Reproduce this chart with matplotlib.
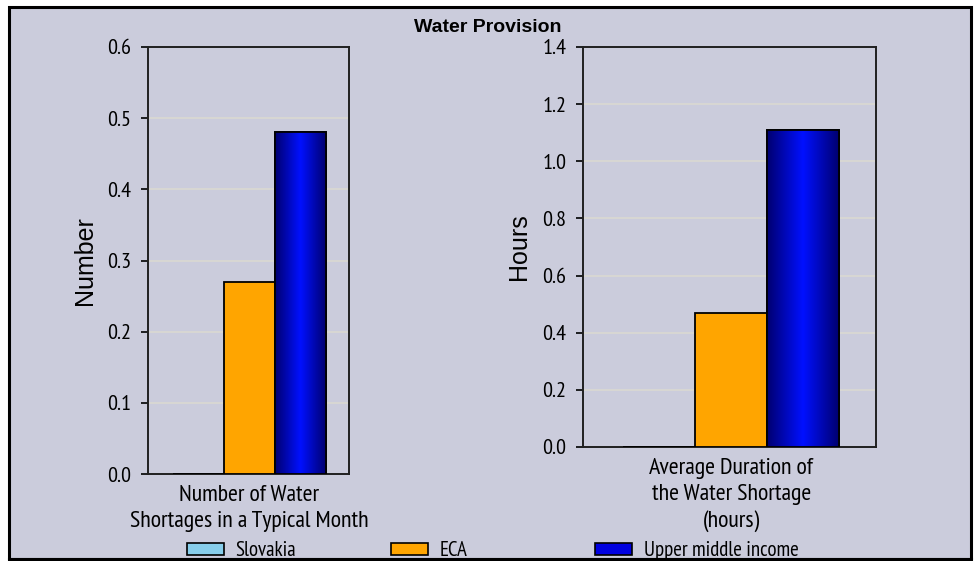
import matplotlib
matplotlib.use("Agg")
import matplotlib.pyplot as plt
import numpy as np
from matplotlib.patches import Rectangle, Patch

series = ["Slovakia", "ECA", "Upper middle income"]
colors = ["#87CEEB", "#FFA500", "#0000E0"]
cat_left = "Number of Water\nShortages in a Typical Month"
cat_right = "Average Duration of\nthe Water Shortage\n(hours)"
vals_left = [0.0, 0.27, 0.48]
vals_right = [0.0, 0.47, 1.11]
ticks_left = [0.0, 0.1, 0.2, 0.3, 0.4, 0.5, 0.6]
ticks_right = [0.0, 0.2, 0.4, 0.6, 0.8, 1.0, 1.2, 1.4]
title = "Water Provision"

NARROW = ["PT Sans Narrow", "DejaVu Sans"]
REG = ["Liberation Sans", "DejaVu Sans"]
BG = "#CBCCDC"
GRID = "#DAD9D2"

W, H = 977, 561
fig = plt.figure(figsize=(W / 100, H / 100), dpi=100, facecolor="white")
fig.patches.append(Rectangle((9 / W, 1 - 559 / H), (971 - 9) / W, (559 - 7) / H,
                             transform=fig.transFigure, facecolor=BG,
                             edgecolor="black", linewidth=2.2, zorder=-10))


def fx(px):
    return px / W


def fy(py):
    return 1 - py / H


ax1 = fig.add_axes([fx(148), fy(474), fx(349 - 148), (474 - 47) / H])
ax2 = fig.add_axes([fx(583), fy(447), fx(876 - 583), (447 - 47) / H])

gradient = np.linspace(0, 1, 256)
gradient = 1 - np.abs(gradient - 0.5) * 2
cmap = matplotlib.colors.LinearSegmentedColormap.from_list("bl", ["#000070", "#0010FF"])


def draw(ax, vals, ticks, ylabel, cat, xlim, labx):
    ax.set_facecolor(BG)
    x = np.arange(len(series))
    bars = ax.bar(x, vals, width=1.0, color=colors, edgecolor="black",
                  linewidth=1.3, zorder=3)
    b = bars[2]
    bx, by = b.get_x(), b.get_y()
    im = ax.imshow(gradient[np.newaxis, :], cmap=cmap, aspect="auto",
                   extent=(bx, bx + b.get_width(), by, by + b.get_height()),
                   zorder=3.5, interpolation="bilinear")
    im.set_clip_path(b)
    ax.bar([x[2]], [vals[2]], width=1.0, facecolor="none", edgecolor="black",
           linewidth=1.3, zorder=4)
    ax.set_xlim(*xlim)
    ax.set_ylim(ticks[0], ticks[-1])
    ax.set_yticks(ticks)
    ax.set_yticklabels([f"{t:.1f}" for t in ticks], fontfamily=NARROW, fontsize=16)
    ax.tick_params(axis="y", length=5, width=1.2, pad=7, direction="out")
    ax.set_xticks([1])
    ax.set_xticklabels([cat], fontfamily=NARROW, fontsize=17.2, linespacing=1.3)
    ax.tick_params(axis="x", length=0, pad=8)
    ax.grid(axis="y", color=GRID, linewidth=1.2, zorder=0)
    ax.set_axisbelow(True)
    for s in ax.spines.values():
        s.set_linewidth(1.4)
        s.set_color("#202020")
    ax.set_ylabel(ylabel, fontfamily=REG, fontsize=18)
    ax.yaxis.set_label_coords(labx, 0.5)


draw(ax1, vals_left, ticks_left, "Number", cat_left, (-0.99, 2.96), -0.255)
draw(ax2, vals_right, ticks_right, "Hours", cat_right, (-1.06, 3.01), -0.177)

fig.text(fx(488), fy(27), title, ha="center", va="center", fontfamily=REG,
         fontsize=14, fontweight="bold")

leg_x = [187, 391, 595]
fs = 15
for lbl, col, px in zip(series, colors, leg_x):
    h = Patch(facecolor=col, edgecolor="black", linewidth=1.2)
    leg = fig.legend([h], [lbl], loc="center left", bbox_to_anchor=(fx(px), fy(551)),
                     frameon=False, prop={"family": NARROW, "size": fs},
                     handlelength=1.78, handleheight=0.53, handletextpad=0.55,
                     borderpad=0, borderaxespad=0)

fig.patches.append(Rectangle((0, 0), 1, 1 - 560 / H, transform=fig.transFigure,
                             facecolor="white", edgecolor="none", zorder=20))
fig.lines.append(plt.Line2D([fx(9), fx(971)], [fy(559), fy(559)], transform=fig.transFigure,
                            color="black", linewidth=2.2, zorder=21))

fig.savefig("out.png", dpi=100, facecolor=fig.get_facecolor())
